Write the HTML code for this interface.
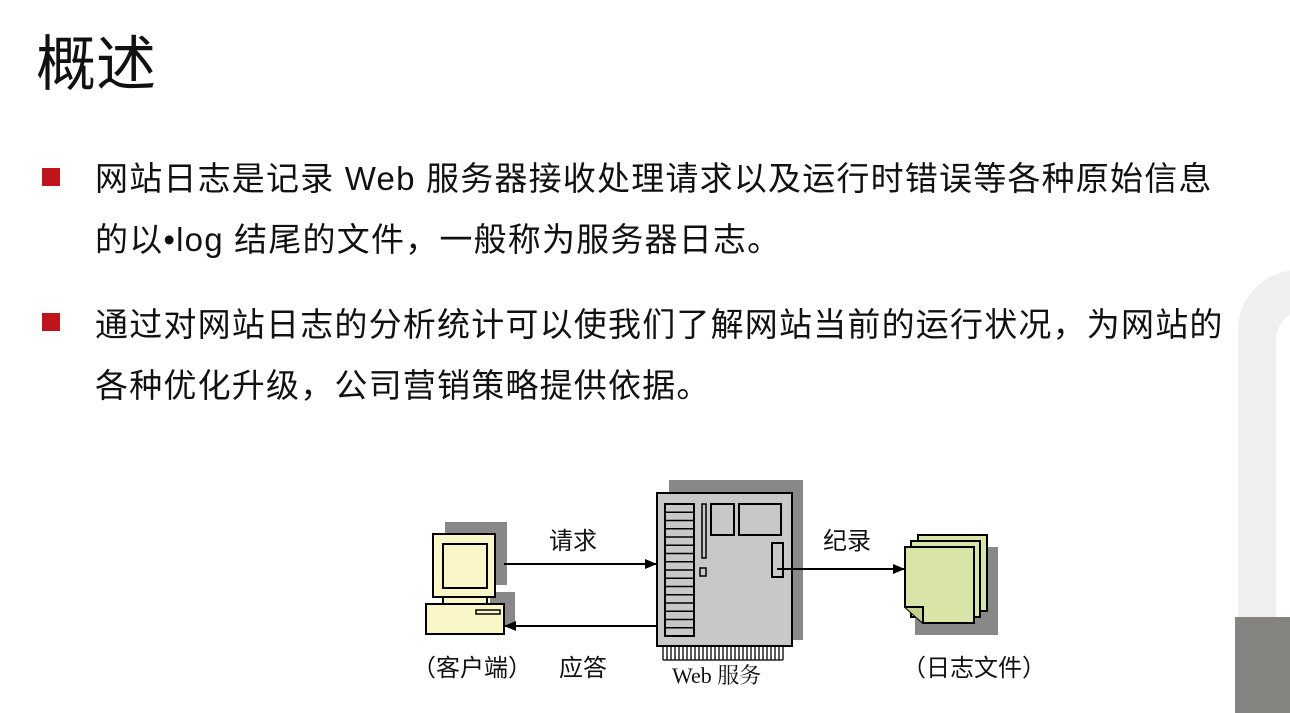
<!DOCTYPE html>
<html style="overflow:hidden;height:713px"><head><meta charset="utf-8"><style>
body{margin:0;width:1290px;height:713px;background:#fff;position:relative;overflow:hidden;font-family:"Liberation Sans","Noto Sans CJK SC",sans-serif;color:#111}
.t{position:absolute;white-space:nowrap}
.sq{position:absolute;width:18px;height:18px;background:#c0141d}
.p{font-size:33px;letter-spacing:1.2px}
</style></head><body>
<div style="position:absolute;left:1238px;top:270px;width:120px;height:443px;border-radius:60px 0 0 0;background:#efefef"></div>
<div style="position:absolute;left:1276px;top:310px;width:40px;height:403px;border-radius:30px 0 0 0;background:#fff"></div>
<div style="position:absolute;left:1235px;top:617px;width:55px;height:96px;background:#858380"></div>
<div class="t" style="left:36px;top:16px;font-size:60px">概述</div>
<div class="sq" style="left:42px;top:168px"></div>
<div class="sq" style="left:42px;top:313px"></div>
<div class="t p" style="left:95px;top:152px">网站日志是记录 Web 服务器接收处理请求以及运行时错误等各种原始信息</div>
<div class="t p" style="left:95px;top:213px">的以•log 结尾的文件，一般称为服务器日志。</div>
<div class="t p" style="left:95px;top:298px">通过对网站日志的分析统计可以使我们了解网站当前的运行状况，为网站的</div>
<div class="t p" style="left:95px;top:359px">各种优化升级，公司营销策略提供依据。</div>
<svg style="position:absolute;left:0;top:0" width="1290" height="713">
<defs><marker id="a" markerWidth="12" markerHeight="10" refX="11" refY="5" orient="auto" markerUnits="userSpaceOnUse"><path d="M0,0L12,5L0,10z" fill="#000"/></marker></defs>
<g stroke="#000" stroke-width="2">
<rect x="445" y="522" width="62" height="63" fill="#888" stroke="none"/>
<rect x="490" y="592" width="25" height="33" fill="#888" stroke="none"/>
<rect x="433" y="534" width="62" height="63" fill="#fbf6c8"/>
<rect x="443" y="544" width="44" height="44" fill="#fbf6c8"/>
<rect x="443" y="597" width="44" height="7" fill="#fbf6c8"/>
<rect x="426" y="604" width="78" height="30" fill="#fbf6c8"/>
<rect x="476" y="610" width="24" height="4" fill="#fbf6c8" stroke-width="1.5"/>
<rect x="669" y="480" width="134" height="160" fill="#888" stroke="none"/>
<rect x="657" y="493" width="135" height="153" fill="#c8c8c8"/>
<rect x="665" y="504" width="29" height="132" fill="#c8c8c8"/>
<path d="M665 512.25h29M665 520.5h29M665 528.75h29M665 537h29M665 545.25h29M665 553.5h29M665 561.75h29M665 570h29M665 578.25h29M665 586.5h29M665 594.75h29M665 603h29M665 611.25h29M665 619.5h29M665 627.75h29" stroke-width="1.5"/>
<rect x="702" y="504" width="4" height="54" fill="#c8c8c8" stroke-width="1.5"/>
<rect x="700" y="568" width="6" height="8" fill="#c8c8c8" stroke-width="1.5"/>
<rect x="711" y="504" width="23" height="31" fill="#c8c8c8"/>
<rect x="739" y="504" width="42" height="31" fill="#c8c8c8"/>
<rect x="772" y="543" width="11" height="34" fill="#c8c8c8"/>
<path d="M663 647v13M667 647v13M671 647v13M675 647v13M679 647v13M683 647v13M687 647v13M691 647v13M695 647v13M699 647v13M703 647v13M707 647v13M711 647v13M715 647v13M719 647v13M723 647v13M727 647v13M731 647v13M735 647v13M739 647v13M743 647v13M747 647v13M751 647v13M755 647v13M759 647v13M763 647v13M767 647v13M771 647v13M775 647v13M779 647v13M783 647v13M663 660h120" stroke-width="1.3"/>
<line x1="504" y1="564" x2="656" y2="564" marker-end="url(#a)"/>
<line x1="656" y1="626" x2="505" y2="626" marker-end="url(#a)"/>
<line x1="777" y1="569" x2="904" y2="569" marker-end="url(#a)"/>
<rect x="915" y="547" width="83" height="88" fill="#888" stroke="none"/>
<rect x="918" y="535" width="69" height="76" fill="#d8e4a8"/>
<rect x="911" y="541" width="69" height="76" fill="#d8e4a8"/>
<path d="M905 547h69v76h-51l-18-16z" fill="#d8e4a8"/>
<path d="M905 607h18v16" fill="#c8d090"/>
</g>
<g font-family="Liberation Sans,Noto Sans CJK SC,sans-serif" font-size="24" fill="#111">
<text x="549" y="549">请求</text>
<text x="559" y="676">应答</text>
<text x="823" y="549">纪录</text>
<text x="412" y="676">（客户端）</text>
<text x="902" y="676">（日志文件）</text>
<text x="672" y="683" font-family="Liberation Serif,Noto Serif CJK SC,serif" font-size="22">Web 服务</text>
</g>
</svg>
</body></html>
